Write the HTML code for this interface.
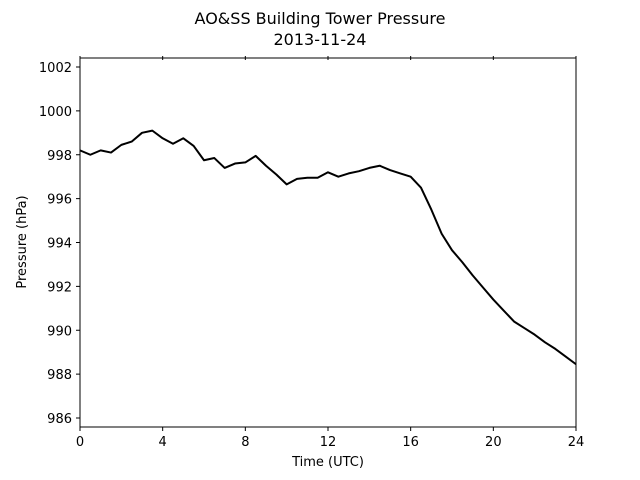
<!DOCTYPE html>
<html><head><meta charset="utf-8"><style>
body{margin:0;background:#fff;}
svg{display:block;font-family:"DejaVu Sans","Liberation Sans",sans-serif;}
</style></head><body>
<svg id="chart" width="640" height="480">
<text x="320" y="24" text-anchor="middle" font-size="16">AO&amp;SS Building Tower Pressure</text>
<text x="320" y="45" text-anchor="middle" font-size="16">2013-11-24</text>
<rect x="80" y="58" width="496" height="369" fill="none" stroke="#000" stroke-width="1"/>
<g id="xt"></g><g id="yt"></g>
<polyline id="line" fill="none" stroke="#000" stroke-width="2" stroke-linejoin="round"/>
<text x="328" y="466" text-anchor="middle" font-size="13">Time (UTC)</text>
<text transform="translate(26,242) rotate(-90)" text-anchor="middle" font-size="13">Pressure (hPa)</text>
</svg>
<script>
const hours=[0,0.5,1,1.5,2,2.5,3,3.5,4,4.5,5,5.5,6,6.5,7,7.5,8,8.5,9,9.5,10,10.5,11,11.5,12,12.5,13,13.5,14,14.5,15,15.5,16,16.5,17,17.5,18,18.5,19,19.5,20,20.5,21,21.5,22,22.5,23,23.5,24];
const pressure=[998.2,998.0,998.2,998.1,998.45,998.6,999.0,999.1,998.75,998.5,998.75,998.4,997.75,997.85,997.4,997.6,997.65,997.95,997.5,997.1,996.65,996.9,996.95,996.95,997.2,997.0,997.15,997.25,997.4,997.5,997.3,997.15,997.0,996.5,995.5,994.4,993.65,993.1,992.5,991.95,991.4,990.9,990.4,990.1,989.8,989.45,989.15,988.8,988.45];
const xTicks=[0,4,8,12,16,20,24];
const yTicks=[986,988,990,992,994,996,998,1000,1002];
const X=h=>80+h*(496/24);
const Y=p=>67+(1002-p)*(351/16);
const ns="http://www.w3.org/2000/svg";
const xt=document.getElementById('xt'),yt=document.getElementById('yt');
xTicks.forEach(t=>{
 [[427,431],[56,60]].forEach(([a,b])=>{const l=document.createElementNS(ns,'line');
 l.setAttribute('x1',X(t));l.setAttribute('x2',X(t));l.setAttribute('y1',a);l.setAttribute('y2',b);l.setAttribute('stroke','#000');
 
 
 xt.appendChild(l);});
 const tx=document.createElementNS(ns,'text');tx.setAttribute('x',X(t));tx.setAttribute('y',446);tx.setAttribute('text-anchor','middle');tx.setAttribute('font-size','13');tx.textContent=t;
 
 
 xt.appendChild(tx);
});
yTicks.forEach(t=>{
 const l=document.createElementNS(ns,'line');
 l.setAttribute('x1',76);l.setAttribute('x2',80);l.setAttribute('y1',Y(t));l.setAttribute('y2',Y(t));l.setAttribute('stroke','#000');
 
 
 yt.appendChild(l);
 const tx=document.createElementNS(ns,'text');tx.setAttribute('x',72);tx.setAttribute('y',Y(t)+5);tx.setAttribute('text-anchor','end');tx.setAttribute('font-size','13');tx.textContent=t;
 
 
 yt.appendChild(tx);
});
document.getElementById('line').setAttribute('points',hours.map((h,i)=>X(h)+','+Y(pressure[i])).join(' '));
</script>
</body></html>
